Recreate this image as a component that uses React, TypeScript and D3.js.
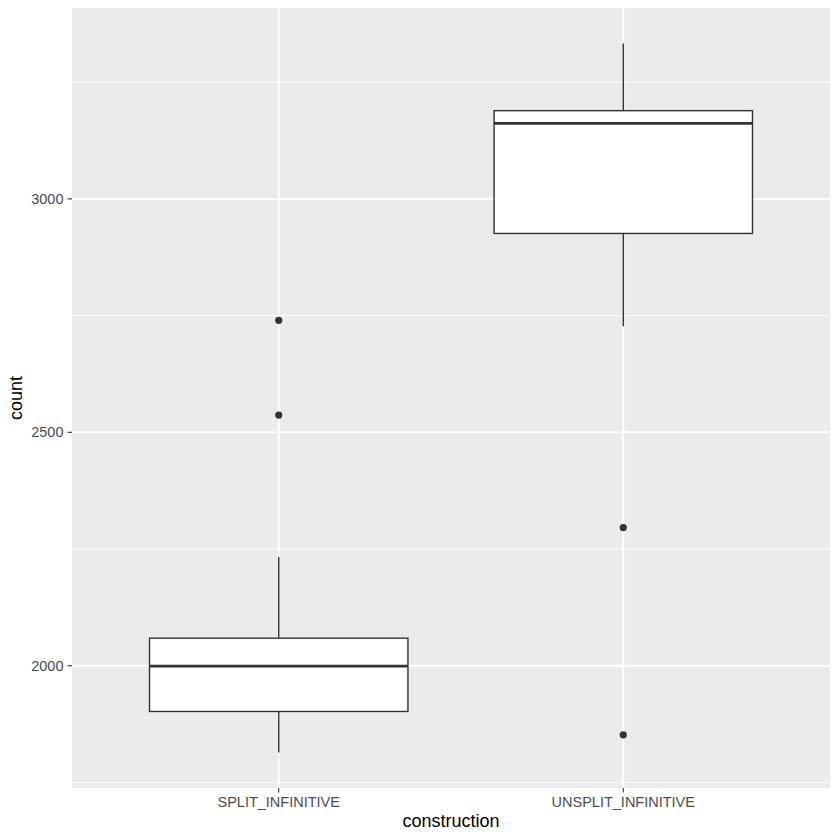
import React from 'react';
import * as d3 from 'd3';

// categories and box statistics
const categories = ['SPLIT_INFINITIVE', 'UNSPLIT_INFINITIVE'];
const whiskerLow = [1814, 2727];
const q1 = [1902, 2926];
const median = [1999, 3162];
const q3 = [2059, 3189];
const whiskerHigh = [2233, 3333];
const outliers = [[2740, 2537], [2296, 1852]];

const yTicks = [2000, 2500, 3000];
const yMinor = [1750, 2250, 2750, 3250];

const W = 840;
const H = 840;
const margin = { top: 8, right: 10, bottom: 52, left: 72 };

const App = () => {
  const left = margin.left;
  const right = W - margin.right;
  const top = margin.top;
  const bottom = H - margin.bottom;

  const allVals = [...whiskerLow, ...whiskerHigh, ...outliers.flat()];
  const lo = d3.min(allVals) as number;
  const hi = d3.max(allVals) as number;
  const pad = (hi - lo) * 0.05;

  const y = d3.scaleLinear().domain([lo - pad, hi + pad]).range([bottom, top]);

  // discrete axis with ggplot's 0.6 expansion
  const x = d3.scaleLinear().domain([0.4, categories.length + 0.6]).range([left, right]);
  const bandW = x(0.75) - x(0);

  const font = '"Liberation Sans", Arial, Helvetica, sans-serif';
  const tickLen = 4.5;

  return (
    <svg width={W} height={H} style={{ display: 'block', margin: -8 }}>
      <rect x={0} y={0} width={W} height={H} fill="#ffffff" />
      <rect x={left} y={top} width={right - left} height={bottom - top} fill="#EBEBEB" />

      {/* grid */}
      {yMinor.map(v => (
        <line key={'mi' + v} x1={left} x2={right} y1={y(v)} y2={y(v)} stroke="#fff" strokeWidth={1} />
      ))}
      {yTicks.map(v => (
        <line key={'ma' + v} x1={left} x2={right} y1={y(v)} y2={y(v)} stroke="#fff" strokeWidth={2} />
      ))}
      {categories.map((c, i) => (
        <line key={'vx' + c} x1={x(i + 1)} x2={x(i + 1)} y1={top} y2={bottom} stroke="#fff" strokeWidth={2} />
      ))}

      {/* boxes */}
      {categories.map((c, i) => {
        const cx = x(i + 1);
        return (
          <g key={c}>
            <line x1={cx} x2={cx} y1={y(q3[i])} y2={y(whiskerHigh[i])} stroke="#333333" strokeWidth={1.4} />
            <line x1={cx} x2={cx} y1={y(q1[i])} y2={y(whiskerLow[i])} stroke="#333333" strokeWidth={1.4} />
            <rect
              x={cx - bandW / 2}
              y={y(q3[i])}
              width={bandW}
              height={y(q1[i]) - y(q3[i])}
              fill="#ffffff"
              stroke="#333333"
              strokeWidth={1.4}
            />
            <line x1={cx - bandW / 2} x2={cx + bandW / 2} y1={y(median[i])} y2={y(median[i])} stroke="#333333" strokeWidth={2.8} />
            {outliers[i].map((v, j) => (
              <circle key={j} cx={cx} cy={y(v)} r={3.6} fill="#333333" />
            ))}
          </g>
        );
      })}

      {/* y axis */}
      {yTicks.map(v => (
        <g key={'yt' + v}>
          <line x1={left - tickLen} x2={left} y1={y(v)} y2={y(v)} stroke="#333333" strokeWidth={1.1} />
          <text x={left - tickLen - 4} y={y(v)} dy="0.35em" textAnchor="end" fontFamily={font} fontSize={14.5} fill="#4D4D4D">
            {v}
          </text>
        </g>
      ))}

      {/* x axis */}
      {categories.map((c, i) => (
        <g key={'xt' + c}>
          <line x1={x(i + 1)} x2={x(i + 1)} y1={bottom} y2={bottom + tickLen} stroke="#333333" strokeWidth={1.1} />
          <text x={x(i + 1)} y={bottom + 19} textAnchor="middle" fontFamily={font} fontSize={14.5} fill="#4D4D4D">
            {c}
          </text>
        </g>
      ))}

      <text x={(left + right) / 2} y={H - 13} textAnchor="middle" fontFamily={font} fontSize={18} fill="#000">
        construction
      </text>
      <text
        transform={`translate(${22},${(top + bottom) / 2}) rotate(-90)`}
        textAnchor="middle"
        fontFamily={font}
        fontSize={18}
        fill="#000"
      >
        count
      </text>
    </svg>
  );
};

export default App;
